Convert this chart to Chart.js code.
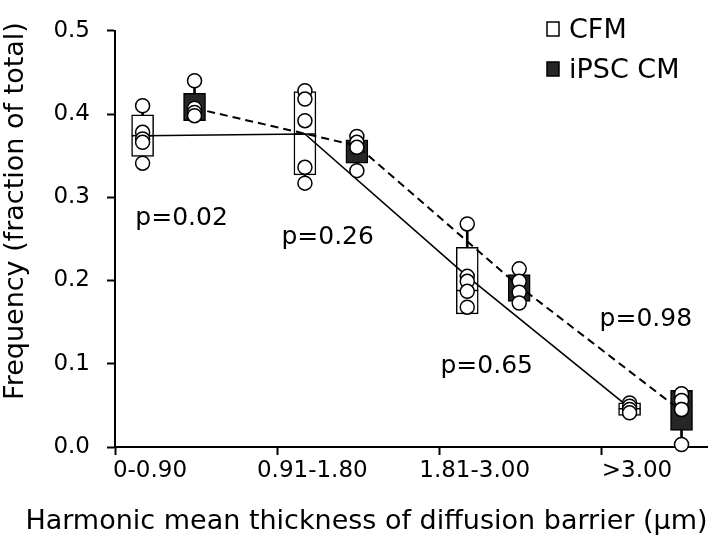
<!DOCTYPE html>
<html>
<head>
<meta charset="utf-8">
<script src="https://cdn.jsdelivr.net/npm/chart.js@4.4.1/dist/chart.umd.min.js"></script>
<style>
  html, body { margin: 0; padding: 0; background: #fff; }
</style>
</head>
<body>
<canvas id="myChart" width="720" height="541"></canvas>
<script>
// categories and tick labels
var groups = ["0-0.90", "0.91-1.80", "1.81-3.00", ">3.00"];
var yTicks = [0, 0.1, 0.2, 0.3, 0.4, 0.5];
var seriesNames = ["CFM", "iPSC CM"];
var pLabels = ["p=0.02", "p=0.26", "p=0.65", "p=0.98"];
var xTitle = "Harmonic mean thickness of diffusion barrier (\u03bcm)";
var yTitle = "Frequency (fraction of total)";

// CFM
var cfmMean = [0.374, 0.376, 0.205, 0.047];
var cfmMedian = [0.374, 0.376, 0.188, 0.046];
var cfmQ1 = [0.349, 0.327, 0.160, 0.038];
var cfmQ3 = [0.399, 0.427, 0.240, 0.053];
var cfmMin = [0.341, 0.317, 0.168, 0.041];
var cfmMax = [0.410, 0.428, 0.268, 0.053];
var cfmPoints = [
  [0.410, 0.378, 0.370, 0.366, 0.341],
  [0.428, 0.418, 0.392, 0.336, 0.317],
  [0.268, 0.205, 0.199, 0.187, 0.168],
  [0.053, 0.049, 0.045, 0.041]
];

// iPSC CM
var ipscMean = [0.407, 0.362, 0.193, 0.043];
var ipscQ1 = [0.392, 0.341, 0.175, 0.020];
var ipscQ3 = [0.425, 0.369, 0.207, 0.068];
var ipscMin = [0.398, 0.332, 0.173, 0.003];
var ipscMax = [0.440, 0.373, 0.214, 0.064];
var ipscPoints = [
  [0.440, 0.407, 0.402, 0.398],
  [0.373, 0.366, 0.360, 0.332],
  [0.214, 0.199, 0.186, 0.173],
  [0.064, 0.056, 0.045, 0.045, 0.003]
];

// where the two series sit inside each bin, and where the p values go
var CFM_OFF = 0.17, IPSC_OFF = 0.49;
var pNoteX = [0.41, 1.31, 2.29, 3.27];
var pNoteY = [0.267, 0.244, 0.089, 0.145];

var FONT = "'DejaVu Sans', sans-serif";

function at(off, arr) {
  return arr.map(function (v, i) { return { x: i + off, y: v }; });
}
function range(off, lo, hi) {
  return lo.map(function (v, i) { return { x: i + off, y: [v, hi[i]] }; });
}
function cloud(off, pts) {
  var out = [];
  pts.forEach(function (list, i) {
    list.forEach(function (v) { out.push({ x: i + off, y: v }); });
  });
  return out;
}

// legend, p values and axis titles (titles are wider than the axis, so drawn here)
var extras = {
  id: "extras",
  afterDatasetsDraw: function (chart) {
    var c = chart.ctx, xs = chart.scales.x, ys = chart.scales.y;
    c.save();
    c.fillStyle = "#000";
    c.font = "25px " + FONT;
    c.textAlign = "center";
    c.textBaseline = "alphabetic";
    pLabels.forEach(function (t, i) {
      c.fillText(t, xs.getPixelForValue(pNoteX[i]), ys.getPixelForValue(pNoteY[i]));
    });

    // legend
    var fills = ["#fff", "#262626"];
    c.font = "27px " + FONT;
    c.textAlign = "left";
    c.lineWidth = 1.5;
    c.strokeStyle = "#000";
    seriesNames.forEach(function (n, i) {
      var top = 22 + i * 40;
      c.fillStyle = fills[i];
      c.fillRect(547, top, 12, 14);
      c.strokeRect(547, top, 12, 14);
      c.fillStyle = "#000";
      c.fillText(n, 569, top + 16);
    });

    // x title
    c.font = "27px " + FONT;
    c.textAlign = "right";
    c.fillText(xTitle, xs.right, 529);

    // y title
    c.translate(16, 211);
    c.rotate(-Math.PI / 2);
    c.textAlign = "center";
    c.textBaseline = "middle";
    c.fillText(yTitle, 0, 0);
    c.restore();
  }
};

var ctx = document.getElementById("myChart").getContext("2d");
var myChart = new Chart(ctx, {
  type: "scatter",
  data: {
    datasets: [
      { type: "bar", data: range(CFM_OFF, cfmMin, cfmMax), backgroundColor: "#000", barThickness: 2, grouped: false, order: 6, clip: false },
      { type: "bar", data: range(IPSC_OFF, ipscMin, ipscMax), backgroundColor: "#000", barThickness: 2, grouped: false, order: 6, clip: false },
      { type: "bar", label: "CFM", data: range(CFM_OFF, cfmQ1, cfmQ3), backgroundColor: "#fff", borderColor: "#000", borderWidth: 1.5, borderSkipped: false, barThickness: 22, grouped: false, order: 5, clip: false },
      { type: "bar", label: "iPSC CM", data: range(IPSC_OFF, ipscQ1, ipscQ3), backgroundColor: "#262626", borderColor: "#000", borderWidth: 1.5, borderSkipped: false, barThickness: 22, grouped: false, order: 5, clip: false },
      { type: "line", data: at(CFM_OFF, cfmMean), borderColor: "#000", borderWidth: 1.6, pointRadius: 0, fill: false, order: 4, clip: false },
      { type: "line", data: at(IPSC_OFF, ipscMean), borderColor: "#000", borderWidth: 2, borderDash: [8, 5], pointRadius: 0, fill: false, order: 4, clip: false },
      { type: "scatter", data: at(CFM_OFF, cfmMedian), pointStyle: "line", pointRadius: 11, borderColor: "#000", borderWidth: 1.5, order: 3, clip: false },
      { type: "scatter", data: cloud(CFM_OFF, cfmPoints), pointRadius: 7, backgroundColor: "#fff", borderColor: "#000", borderWidth: 1.5, order: 2, clip: false },
      { type: "scatter", data: cloud(IPSC_OFF, ipscPoints), pointRadius: 7, backgroundColor: "#fff", borderColor: "#000", borderWidth: 1.5, order: 1, clip: false }
    ]
  },
  options: {
    responsive: false,
    animation: false,
    layout: { padding: { left: 0, right: 8, top: 15, bottom: 0 } },
    plugins: {
      legend: { display: false },
      tooltip: { enabled: false }
    },
    scales: {
      x: {
        type: "linear",
        min: 0,
        max: 3.65,
        offset: false,
        afterBuildTicks: function (s) {
          s.ticks = groups.map(function (g, i) { return { value: i }; });
        },
        afterFit: function (s) { s.height = 94; },
        ticks: {
          callback: function (v) { return groups[v]; },
          autoSkip: false,
          maxRotation: 0,
          labelOffset: 35,
          padding: 2,
          color: "#000",
          font: { family: FONT, size: 23 }
        },
        grid: { offset: false, drawOnChartArea: false, tickLength: 8, tickWidth: 2, tickColor: "#000" },
        border: { color: "#000", width: 2 }
      },
      y: {
        min: 0,
        max: 0.5,
        afterBuildTicks: function (s) {
          s.ticks = yTicks.map(function (v) { return { value: v }; });
        },
        afterFit: function (s) { s.width = 115; },
        ticks: {
          callback: function (v) { return v.toFixed(1); },
          padding: 17,
          color: "#000",
          font: { family: FONT, size: 23 }
        },
        grid: { drawOnChartArea: false, tickLength: 8, tickWidth: 2, tickColor: "#000" },
        border: { color: "#000", width: 2 }
      }
    }
  },
  plugins: [extras]
});
</script>
</body>
</html>
